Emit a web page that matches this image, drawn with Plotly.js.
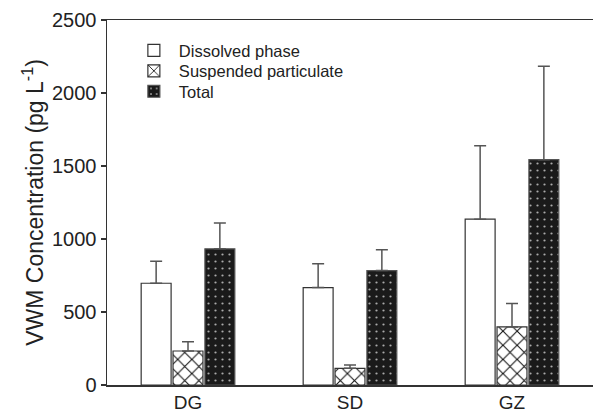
<!DOCTYPE html>
<html><head><meta charset="utf-8">
<script src="https://cdn.plot.ly/plotly-3.0.1.min.js"></script>
<style>body{margin:0;padding:0;background:#fff}#chart{width:593px;height:415px}</style>
</head><body><div id="chart"></div>
<script>
const categories = ["DG", "SD", "GZ"];
const dissolved = [697, 667, 1136];
const dissolvedErr = [151, 163, 503];
const suspended = [233, 114, 398];
const suspendedErr = [64, 23, 160];
const total = [933, 784, 1543];
const totalErr = [176, 142, 640];
const yTicks = [0, 500, 1000, 1500, 2000, 2500];

const errStyle = (arr) => ({type: 'data', array: arr, arrayminus: arr.map(() => 0), symmetric: false, visible: true, color: '#555', thickness: 1.5, width: 6});

const traces = [
  {type: 'bar', name: 'Dissolved phase', legend: 'legend', x: categories, y: dissolved, error_y: errStyle(dissolvedErr),
   marker: {color: '#ffffff', line: {color: '#333', width: 1.2}}},
  {type: 'bar', name: 'Suspended particulate', legend: 'legend2', x: categories, y: suspended, error_y: errStyle(suspendedErr),
   marker: {color: '#ffffff', line: {color: '#333', width: 1.2},
     pattern: {shape: 'x', fgcolor: '#111', bgcolor: '#ffffff', size: 10, solidity: 0.2}}},
  {type: 'bar', name: 'Total', legend: 'legend3', x: categories, y: total, error_y: errStyle(totalErr),
   marker: {color: '#1a1a1a', line: {color: '#555', width: 1.2},
     pattern: {shape: '.', fgcolor: '#aaaaaa', bgcolor: '#1a1a1a', size: 7, solidity: 0.08}}}
];

const legStyle = (y) => ({x: 0.045, y: y, xanchor: 'left', yanchor: 'middle', bgcolor: 'rgba(0,0,0,0)',
  font: {size: 16.5, color: '#222'}, itemwidth: 40});

const layout = {
  width: 593, height: 415,
  margin: {l: 107, r: 0, t: 20, b: 30},
  paper_bgcolor: '#fff', plot_bgcolor: '#fff',
  font: {family: 'Liberation Sans, Arial, sans-serif', color: '#222'},
  barmode: 'group', bargap: 0.41, bargroupgap: 0.06,
  showlegend: true,
  legend: legStyle(0.916),
  legend2: legStyle(0.860),
  legend3: legStyle(0.804),
  xaxis: {type: 'category', range: [-0.5, 2.5], showline: true, linecolor: '#333', linewidth: 1.5,
    mirror: true, ticks: '', showgrid: false, zeroline: false, tickfont: {size: 19, color: '#222'}},
  yaxis: {range: [0, 2500], tickvals: yTicks, ticktext: yTicks.map(String), showline: true,
    linecolor: '#333', linewidth: 1.5, ticks: 'outside', ticklen: 5, tickcolor: '#333', tickwidth: 1.5,
    showgrid: false, zeroline: false, tickfont: {size: 20, color: '#222'},
    title: {text: 'VWM Concentration (pg L<sup>-1</sup>)', font: {size: 23, color: '#222'}, standoff: 2}}
};

Plotly.newPlot('chart', traces, layout, {displayModeBar: false, staticPlot: true});
</script></body></html>
